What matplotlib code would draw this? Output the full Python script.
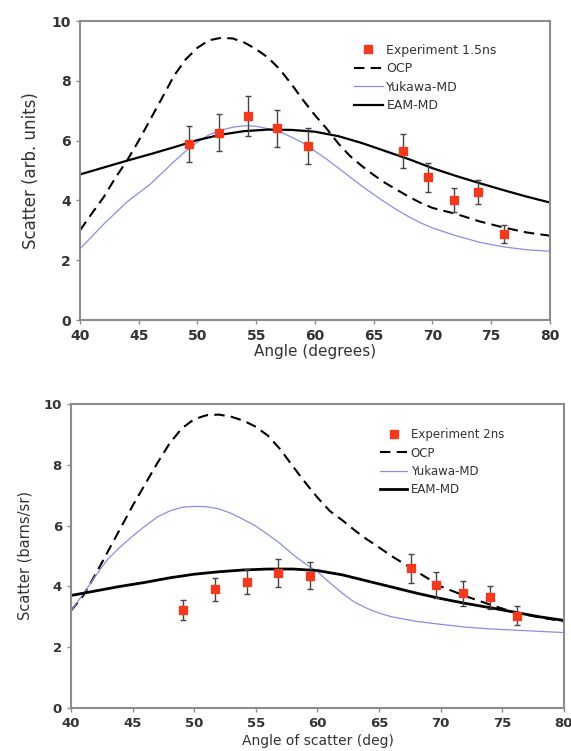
import numpy as np
import matplotlib.pyplot as plt
from matplotlib.lines import Line2D

# ---- top panel (1.5 ns) ----
exp1_angle = [49.3, 51.8, 54.3, 56.8, 59.4, 67.5, 69.6, 71.8, 73.9, 76.1]
exp1_val = [5.88, 6.26, 6.83, 6.41, 5.82, 5.65, 4.77, 4.01, 4.28, 2.88]
exp1_err = [0.6, 0.62, 0.68, 0.62, 0.6, 0.58, 0.48, 0.4, 0.4, 0.3]

ocp1_angle = [40, 41, 42, 43, 44, 45, 46, 47, 48, 49, 50, 51, 52, 53, 54, 55, 56, 57, 58, 59,
              60, 61, 62, 63, 64, 65, 66, 67, 68, 69, 70, 72, 74, 76, 78, 80]
ocp1_val = [3.0, 3.56, 4.1, 4.75, 5.33, 6.0, 6.72, 7.44, 8.17, 8.72, 9.11, 9.36, 9.44, 9.42,
            9.28, 9.06, 8.78, 8.39, 7.89, 7.35, 6.85, 6.4, 5.9, 5.48, 5.15, 4.85, 4.58, 4.35,
            4.12, 3.92, 3.75, 3.55, 3.3, 3.1, 2.93, 2.82]

yuk1_angle = [40, 42, 44, 46, 48, 49, 50, 51, 52, 53, 54, 55, 56, 57, 58, 59, 60, 61, 62, 63,
              64, 65, 66, 67, 68, 69, 70, 72, 74, 76, 78, 80]
yuk1_val = [2.38, 3.2, 3.95, 4.55, 5.3, 5.65, 5.95, 6.2, 6.35, 6.45, 6.5, 6.48, 6.4, 6.3, 6.12,
            5.92, 5.65, 5.38, 5.08, 4.78, 4.48, 4.2, 3.93, 3.68, 3.45, 3.25, 3.08, 2.82, 2.6,
            2.45, 2.35, 2.3]

eam1_angle = [40, 42, 44, 46, 48, 50, 52, 54, 56, 58, 60, 62, 64, 66, 68, 70, 72, 74, 76, 78, 80]
eam1_val = [4.87, 5.1, 5.33, 5.55, 5.78, 6.02, 6.2, 6.32, 6.37, 6.36, 6.3, 6.15, 5.92, 5.65,
            5.38, 5.08, 4.82, 4.58, 4.35, 4.13, 3.93]

# ---- bottom panel (2 ns) ----
exp2_angle = [49.1, 51.7, 54.3, 56.8, 59.4, 67.6, 69.6, 71.8, 74.0, 76.2]
exp2_val = [3.22, 3.9, 4.15, 4.45, 4.35, 4.59, 4.04, 3.77, 3.64, 3.04]
exp2_err = [0.33, 0.38, 0.41, 0.46, 0.45, 0.47, 0.42, 0.4, 0.38, 0.31]

ocp2_angle = [40, 41, 42, 43, 44, 45, 46, 47, 48, 49, 50, 51, 52, 53, 54, 55, 56, 57, 58, 59,
              60, 61, 62, 63, 64, 65, 66, 67, 68, 69, 70, 72, 74, 76, 78, 80]
ocp2_val = [3.2, 3.7, 4.4, 5.15, 5.9, 6.65, 7.35, 8.05, 8.7, 9.2, 9.5, 9.63, 9.65, 9.58, 9.45,
            9.25, 8.95, 8.5, 7.95, 7.42, 6.92, 6.48, 6.18, 5.85, 5.55, 5.28, 5.0, 4.75, 4.5,
            4.25, 4.0, 3.68, 3.4, 3.14, 2.98, 2.85]

yuk2_angle = [40, 41, 42, 43, 44, 45, 46, 47, 48, 49, 50, 51, 52, 53, 54, 55, 56, 57, 58, 59,
              60, 61, 62, 63, 64, 65, 66, 68, 70, 72, 74, 76, 78, 80]
yuk2_val = [3.2, 3.75, 4.35, 4.9, 5.3, 5.65, 5.98, 6.28, 6.48, 6.6, 6.63, 6.62, 6.55, 6.4, 6.2,
            5.98, 5.7, 5.4, 5.05, 4.75, 4.48, 4.12, 3.78, 3.48, 3.28, 3.12, 3.0, 2.85, 2.75,
            2.66, 2.6, 2.56, 2.52, 2.48]

eam2_angle = [40, 42, 44, 46, 48, 50, 52, 54, 56, 58, 60, 62, 64, 66, 68, 70, 72, 74, 76, 78, 80]
eam2_val = [3.7, 3.85, 4.0, 4.13, 4.28, 4.4, 4.48, 4.54, 4.57, 4.57, 4.52, 4.38, 4.18, 3.98,
            3.78, 3.6, 3.44, 3.3, 3.15, 3.0, 2.88]

xticks = [40, 45, 50, 55, 60, 65, 70, 75, 80]
yticks = [0, 2, 4, 6, 8, 10]

red = '#f23a1e'
blue = '#8a8ee0'
spine_col = '#8c8c8c'
text_col = '#333333'

fig = plt.figure(figsize=(5.71, 7.51), dpi=100)
ax1 = fig.add_axes([0.1401, 0.5739, 0.823, 0.398])
ax2 = fig.add_axes([0.1243, 0.0573, 0.8634, 0.4048])


def draw(ax, ea, ev, ee, oa, ov, ya, yv, ma, mv, exp_label, eam_lw, fs, leg_xy):
    ax.errorbar(ea, ev, yerr=ee, fmt='s', color=red, ms=5.5, mec=red,
                ecolor='#444444', elinewidth=1.0, capsize=2.5, capthick=1.0,
                zorder=5)
    l_ocp, = ax.plot(oa, ov, color='black', ls=(0, (5, 3)), lw=1.5, label='OCP')
    l_yuk, = ax.plot(ya, yv, color=blue, lw=0.9, label='Yukawa-MD')
    l_eam, = ax.plot(ma, mv, color='black', lw=eam_lw, label='EAM-MD')
    ax.set_xlim(40, 80)
    ax.set_ylim(0, 10)
    ax.set_xticks(xticks)
    ax.set_yticks(yticks)
    for s in ax.spines.values():
        s.set_color(spine_col)
        s.set_linewidth(1.5)
    ax.tick_params(colors=spine_col, labelcolor=text_col, length=3, width=1,
                   labelsize=fs)
    for lab in ax.get_xticklabels() + ax.get_yticklabels():
        lab.set_fontweight('bold')
    h_exp = Line2D([], [], ls='none', marker='s', ms=5.5, color=red)
    leg = ax.legend([h_exp, l_ocp, l_yuk, l_eam],
                    [exp_label, 'OCP', 'Yukawa-MD', 'EAM-MD'],
                    loc='upper left', bbox_to_anchor=leg_xy, borderaxespad=0,
                    borderpad=0, frameon=False, fontsize=fs - 1, handlelength=2.3,
                    handletextpad=0.3, labelspacing=0.45)
    for t in leg.get_texts():
        t.set_color(text_col)
    return ax


draw(ax1, exp1_angle, exp1_val, exp1_err, ocp1_angle, ocp1_val, yuk1_angle, yuk1_val,
     eam1_angle, eam1_val, 'Experiment 1.5ns', 1.6, 10, (0.583, 0.925))
ax1.set_ylabel('Scatter (arb. units)', fontsize=12, color=text_col, labelpad=8)
ax1.set_xlabel('Angle (degrees)', fontsize=11, color=text_col, labelpad=1)

draw(ax2, exp2_angle, exp2_val, exp2_err, ocp2_angle, ocp2_val, yuk2_angle, yuk2_val,
     eam2_angle, eam2_val, 'Experiment 2ns', 2.0, 9.5, (0.627, 0.92))
ax2.set_ylabel('Scatter (barns/sr)', fontsize=10.5, color=text_col, labelpad=8)
ax2.set_xlabel('Angle of scatter (deg)', fontsize=10, color=text_col, labelpad=3)

fig.savefig('out.png', dpi=100)
